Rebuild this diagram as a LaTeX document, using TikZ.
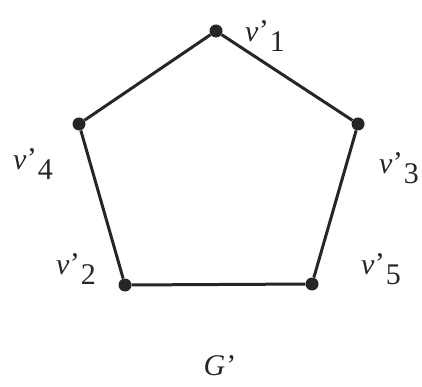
\documentclass[tikz,border=0pt]{standalone}
\usepackage{fontspec}
\setmainfont{Liberation Serif}
\newcommand{\vlab}[1]{\textit{v}\kern0.5pt\raisebox{0.05em}{'}\kern1pt\raisebox{-0.33em}{#1}}
\begin{document}
\begin{tikzpicture}[x=1pt,y=-1pt,
  vert/.style={circle,fill=black!85,inner sep=0pt,minimum size=13pt},
  edge/.style={line width=3pt,draw=black!85},
  lab/.style={font=\fontsize{30}{34}\selectfont,inner sep=0pt,text=black!85}]
\useasboundingbox (0,0) rectangle (422,387);
\node[vert] (v1) at (216,31) {};
\node[vert] (v4) at (79,124) {};
\node[vert] (v3) at (358,124) {};
\node[vert] (v2) at (125,285) {};
\node[vert] (v5) at (312,284) {};
\draw[edge] (v1) -- (v3) -- (v5) -- (v2) -- (v4) -- (v1);
\node[lab] (l1) at (265,36) {\vlab{1}};
\node[lab] (l4) at (33,164) {\vlab{4}};
\node[lab] (l3) at (399,168) {\vlab{3}};
\node[lab] (l2) at (76,269) {\vlab{2}};
\node[lab] (l5) at (381,269) {\vlab{5}};
\node[lab] (g) at (220,366) {\textit{G}\kern1pt'};
\end{tikzpicture}
\end{document}
